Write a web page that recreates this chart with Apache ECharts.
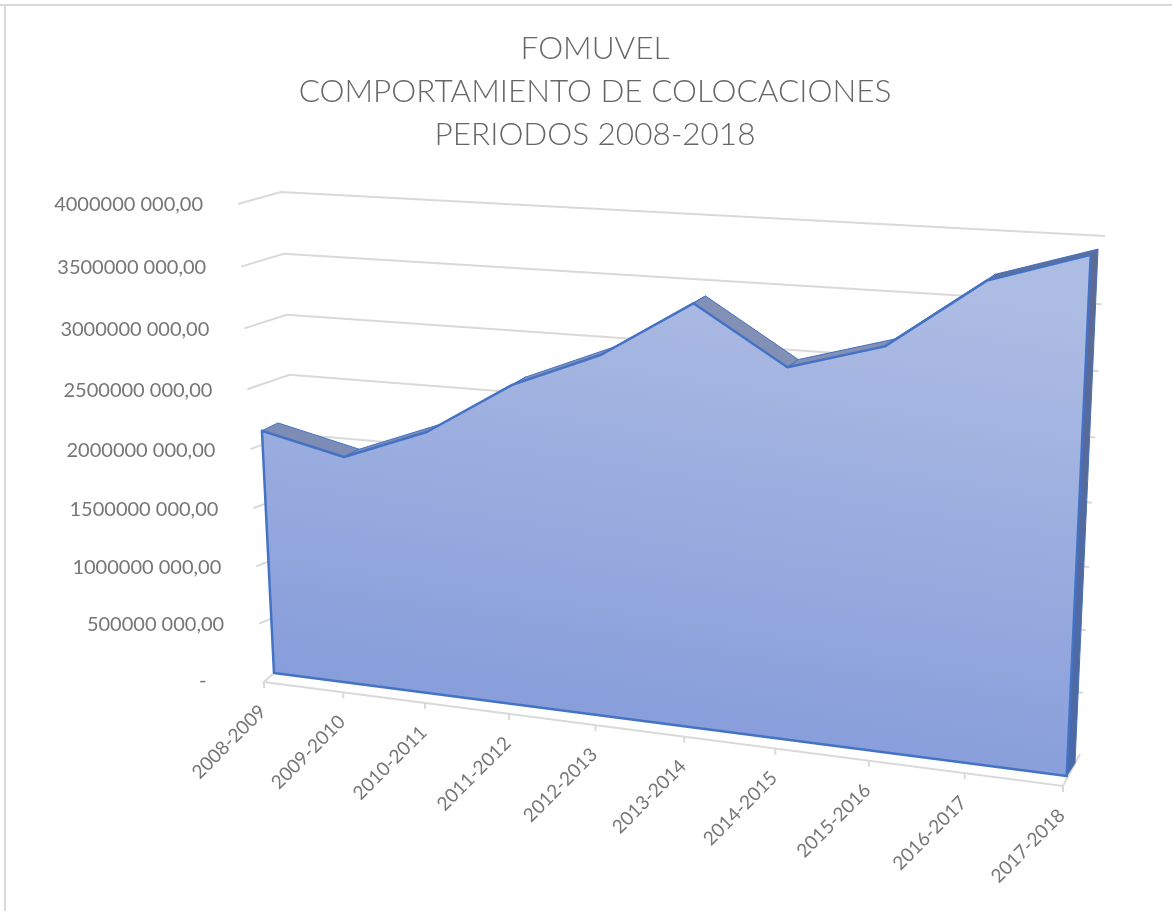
<!DOCTYPE html>
<html><head><meta charset="utf-8">
<style>html,body{margin:0;padding:0;background:#fff}#c{width:1172px;height:911px}</style>
<script src="https://cdn.jsdelivr.net/npm/echarts@6/dist/echarts.min.js"></script>
</head><body><div id="c"></div>
<script>
const titleLines = ['FOMUVEL','COMPORTAMIENTO DE COLOCACIONES','PERIODOS 2008-2018'];
const categories = ['2008-2009','2009-2010','2010-2011','2011-2012','2012-2013','2013-2014','2014-2015','2015-2016','2016-2017','2017-2018'];
const colocaciones = [2100000000,1912000000,2158000000,2570000000,2830000000,3240000000,2770000000,2940000000,3420000000,3600000000];
const tickValues = [0,500000000,1000000000,1500000000,2000000000,2500000000,3000000000,3500000000,4000000000];
const tickLabels = [' -    ','500000 000,00','1000000 000,00','1500000 000,00','2000000 000,00','2500000 000,00','3000000 000,00','3500000 000,00','4000000 000,00'];

// Oblique view of the chart box: every plane is described by its four corners.
const G = {left:264, top:204, width:799, height:476};
const FONT = 'Lato, Carlito, "Open Sans", sans-serif';
const TXT = '#767676';
const lerp = (a,b,t)=>[a[0]+(b[0]-a[0])*t, a[1]+(b[1]-a[1])*t];
const sAlong = u => u + 0.12*u*(u-1);
const vWarp = v => v - 0.06*v*(1-v);
const norm = p => [(p[0]-G.left)/G.width, (G.top+G.height-p[1])/G.height];
const plane = (bl,br,tl,tr) => p => { const n=norm(p), s=sAlong(n[0]);
  return lerp(lerp(bl,br,s), lerp(tl,tr,s), n[1]); };
const front = plane([274,673],[1066.7,776],[251,211.5],[1093.4,197]);
const back  = plane([288,666],[1075,763],[269,203],[1100.6,192]);
const wallEdge = [[262,680],[238,204]], wallCorner=[[303,662],[281,192]], wallEnd=[[1080,754],[1105,236]];
const floorA=[264,682], floorB=[1063,786];

function renderGrid(params, api){
  const v = vWarp(norm(api.coord([0, api.value(0)]))[1]);
  const a=lerp(wallEdge[0],wallEdge[1],v), b=lerp(wallCorner[0],wallCorner[1],v), c=lerp(wallEnd[0],wallEnd[1],v);
  const kids=[];
  if (params.dataIndex>0) kids.push({type:'polyline',shape:{points:[a,b,c]},style:{fill:null,stroke:'#d9d9d9',lineWidth:2}});
  kids.push({type:'text',style:{text:tickLabels[params.dataIndex],x:a[0]-35,y:a[1]+1,align:'right',verticalAlign:'middle',fill:TXT,font:'20px '+FONT}});
  return {type:'group',children:kids};
}
function renderFloor(params, api){
  const u = norm(api.coord([api.value(0),0]))[0];
  const p = lerp(floorA,floorB,sAlong(u));
  const kids=[{type:'line',shape:{x1:p[0],y1:p[1],x2:p[0],y2:p[1]+6},style:{stroke:'#d9d9d9',lineWidth:2}},
    {type:'text',x:p[0]-35,y:p[1]+60,rotation:Math.PI/4,style:{text:categories[params.dataIndex],x:0,y:0,align:'center',verticalAlign:'middle',fill:TXT,font:'19px '+FONT}}];
  if (params.dataIndex===0){
    kids.unshift({type:'polyline',shape:{points:[[274,673],floorA,floorB,[1080,754]]},style:{fill:null,stroke:'#d9d9d9',lineWidth:2}});
  }
  return {type:'group',children:kids};
}
function renderArea(params, api){
  if (params.dataIndex!==0) return null;
  const n=colocaciones.length;
  const tops=colocaciones.map((val,i)=>api.coord([i,val]));
  const f=tops.map(front), b=tops.map(back);
  const f0=front(api.coord([0,0])), f9=front(api.coord([n-1,0])), b9=back(api.coord([n-1,0]));
  const kids=[];
  for(let i=0;i<n-1;i++){
    kids.push({type:'polygon',shape:{points:[f[i],b[i],b[i+1],f[i+1]]},
      style:{fill:i<3?'#7e8db5':i<7?'#8290b6':'#616f98',stroke:'#4472c4',lineWidth:1}});
  }
  kids.push({type:'polygon',shape:{points:[f[n-1],b[n-1],b9,f9]},
    style:{fill:{type:'linear',x:0,y:0,x2:0,y2:1,colorStops:[{offset:0,color:'#5f6b93'},{offset:1,color:'#4a69a8'}]},stroke:'#4a6fb8',lineWidth:1}});
  kids.push({type:'polygon',shape:{points:[f0].concat(f,[f9])},
    style:{fill:{type:'linear',x:0.55,y:0,x2:0.45,y2:1,colorStops:[{offset:0,color:'#adbce3'},{offset:1,color:'#849bda'}]},stroke:'#4472c4',lineWidth:2.5,lineJoin:'round'}});
  return {type:'group',children:kids};
}

const chart = echarts.init(document.getElementById('c'),null,{renderer:'canvas'});
chart.setOption({
  animation:false,
  backgroundColor:'#fff',
  title:{text:titleLines.join('\n'),left:590,top:22,textAlign:'center',
    textStyle:{fontFamily:FONT,fontWeight:300,fontSize:31.5,lineHeight:43,color:'#666666'}},
  graphic:[
    {type:'line',shape:{x1:0,y1:5,x2:1172,y2:5},style:{stroke:'#d9d9d9',lineWidth:2},silent:true,z:-1},
    {type:'line',shape:{x1:5,y1:4,x2:5,y2:911},style:{stroke:'#d9d9d9',lineWidth:2},silent:true,z:-1}
  ],
  grid:G,
  xAxis:{type:'category',data:categories,boundaryGap:false,show:false},
  yAxis:{type:'value',min:0,max:4000000000,interval:500000000,show:false},
  series:[
    {type:'custom',name:'grid',data:tickValues.map(v=>[v]),encode:{x:-1,y:0},renderItem:renderGrid,z:1,silent:true},
    {type:'custom',name:'floor',data:categories.map((c,i)=>[i]),encode:{x:0,y:-1},renderItem:renderFloor,z:2,silent:true},
    {type:'custom',name:'Colocaciones',data:colocaciones.map((v,i)=>[i,v]),encode:{x:0,y:1},renderItem:renderArea,z:3,silent:true}
  ]
});
</script></body></html>
